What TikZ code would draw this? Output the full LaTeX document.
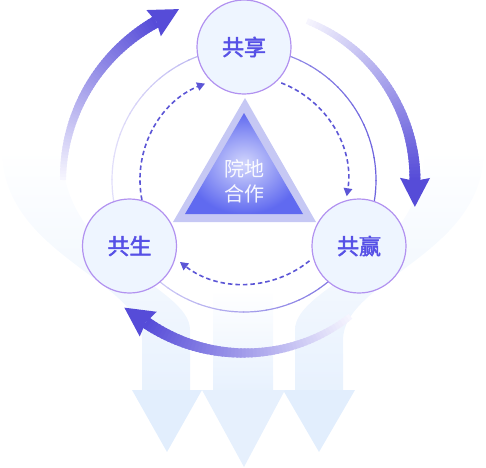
\documentclass[tikz,border=0pt]{standalone}
\usepackage{fontspec}
\newfontfamily\cjk{Noto Sans CJK SC}
\newfontfamily\cjkm[FakeBold=2]{Noto Sans CJK SC}
\usetikzlibrary{calc,arrows.meta}
\definecolor{arrowdark}{RGB}{86,76,216}
\definecolor{arrowlight}{RGB}{246,245,254}
\definecolor{nodefill}{RGB}{238,245,255}
\definecolor{nodeborder}{RGB}{178,146,240}
\definecolor{nodetext}{RGB}{86,80,230}
\definecolor{dashcol}{RGB}{92,86,214}
\definecolor{ringdark}{RGB}{110,100,222}
\definecolor{ringlight}{RGB}{226,223,250}
\definecolor{bgblue}{RGB}{226,238,253}
\definecolor{triout}{RGB}{198,200,244}
\definecolor{triinner}{RGB}{210,214,252}
\definecolor{triouter}{RGB}{96,106,240}
\newcommand\gradarrow[5]{%
  \foreach \i in {0,...,59}{%
    \pgfmathsetmacro\ga{#2+(#3-#2)*\i/60}%
    \pgfmathsetmacro\gb{#2+(#3-#2)*min(\i+1.5,60)/60}%
    \pgfmathsetmacro\gt{100*\i/59}%
    \pgfmathsetmacro\gw{#4+(#5-#4)*\i/59}%
    \draw[line width=\gw pt, draw=arrowdark!\gt!arrowlight] (c) ++(\ga:#1) arc[start angle=\ga, end angle=\gb, radius=#1];%
  }%
  \fill[arrowdark] ($(c)+({#3}:#1)+({#3+90}:26)$) -- ($(c)+({#3}:{#1+15})+({#3-90}:3)$) -- ($(c)+({#3}:#1)$) -- ($(c)+({#3}:{#1-15})+({#3-90}:3)$) -- cycle;%
}
\begin{document}
\begin{tikzpicture}[x=1pt,y=-1pt,
  bignode/.style={circle, minimum size=94pt, inner sep=0pt, fill=nodefill, draw=nodeborder, line width=1.2pt, text=nodetext, font=\cjkm\fontsize{22}{22}\selectfont},
  dasharc/.style={draw=dashcol, dash pattern=on 4.5pt off 3pt, line width=1.6pt, -{Triangle[length=8pt,width=8.5pt]}},
  bgshade/.style={top color=white, bottom color=bgblue!80}]
\useasboundingbox (0,0) rectangle (486,467);
\coordinate (c) at (244,180);
% background bands and down arrows
\shade[bgshade] (2,150) .. controls (2,255) and (142,280) .. (142,340) -- (142,391) -- (190,391) -- (190,330) .. controls (190,285) and (62,262) .. (62,150) -- cycle;
\shade[bgshade] (484,150) .. controls (484,255) and (343,280) .. (343,340) -- (343,391) -- (295,391) -- (295,330) .. controls (295,285) and (424,262) .. (424,150) -- cycle;
\shade[bgshade] (213,290) -- (213,391) -- (273,391) -- (273,290) -- cycle;
\fill[bgblue] (132,390) -- (202,390) -- (167,452) -- cycle;
\fill[bgblue] (283,390) -- (355,390) -- (319,452) -- cycle;
\fill[bgblue!85] (202,390) -- (285,390) -- (244,467) -- cycle;
% thin ring
\foreach \a in {0,5,...,355}{%
  \pgfmathsetmacro\rt{(1+cos(\a+2.5))/2*100}%
  \draw[line width=1.2pt, draw=ringdark!\rt!ringlight] (c) ++(\a:132) arc[start angle=\a, end angle=\a+5.5, radius=132];
}
% dashed arcs
\draw[dasharc] (c) ++(169:104) arc[start angle=169, end angle=248, radius=104];
\draw[dasharc] (c) ++(291:104) arc[start angle=291, end angle=369, radius=104];
\draw[dasharc] (c) ++(51:104) arc[start angle=51, end angle=128, radius=104];
% central triangle
\fill[triout] (245,98) -- (316,222) -- (173,222) -- cycle;
\shade[inner color=triinner, outer color=triouter] (244,113) -- (303,214) -- (185,214) -- cycle;
\node[text=white, opacity=0.92, font=\cjk\fontsize{20}{25}\selectfont, align=center] (hub) at (244,181) {院地\\合作};
% nodes
\node[bignode] (xiang) at (244,47) {共享};
\node[bignode] (sheng) at (129.5,246) {共生};
\node[bignode] (ying) at (359,246) {共赢};
% big gradient arrows
\gradarrow{181}{180}{241}{6}{12}
\gradarrow{171}{291.6}{360.3}{6}{11}
\gradarrow{173}{52}{124.6}{6}{12}
\end{tikzpicture}
\end{document}
